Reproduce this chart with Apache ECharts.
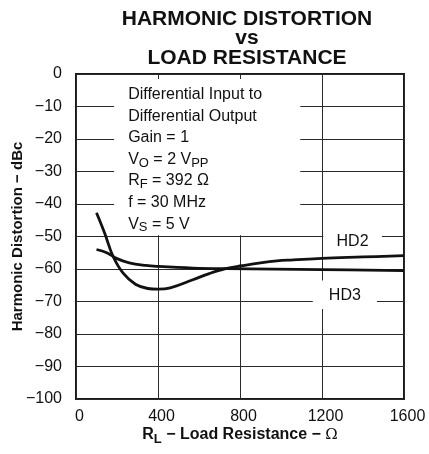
<!DOCTYPE html>
<html>
<head>
<meta charset="utf-8">
<script src="https://cdn.jsdelivr.net/npm/echarts@6/dist/echarts.min.js"></script>
<style>
  html, body { margin: 0; padding: 0; background: #ffffff; }
  #chart { width: 429px; height: 454px; }
</style>
</head>
<body>
<div id="chart"></div>
<script>
// Harmonic distortion (dBc) versus load resistance (ohms)
const hd2Load = [100, 140, 180, 230, 290, 350, 400, 460, 570, 650, 730, 810, 900, 980, 1060, 1200, 1400, 1600];
const hd2Dbc  = [-42.7, -49, -56, -61.3, -64.7, -66, -66.2, -65.8, -63.3, -61.4, -59.9, -59, -58.1, -57.5, -57.2, -56.7, -56.3, -55.9];

const hd3Load = [100, 150, 200, 260, 340, 400, 570, 730, 1200, 1600];
const hd3Dbc  = [-54, -55, -56.8, -58.1, -58.9, -59.2, -59.7, -59.9, -60.2, -60.5];

const xTickStep = 400;
const yTickStep = 10;

const titleLines = ['HARMONIC DISTORTION', 'vs', 'LOAD RESISTANCE'];
const conditionLines = [
  '{n|Differential Input to}',
  '{n|Differential Output}',
  '{n|Gain = 1}',
  '{n|V}{s|O}{n| = 2 V}{s|PP}',
  '{n|R}{s|F}{n| = 392 \u03A9}',
  '{n|f = 30 MHz}',
  '{n|V}{s|S}{n| = 5 V}'
];
const curveNames = ['HD2', 'HD3'];

const FONT = '"Liberation Sans", Arial, Helvetica, sans-serif';
const INK = '#111111';

const zip = (xs, ys) => xs.map((x, i) => [x, ys[i]]);
const minus = v => String(v).replace('-', '\u2212');

const whiteBox = { color: '#ffffff', opacity: 1, borderWidth: 0 };

const chart = echarts.init(document.getElementById('chart'), null, { renderer: 'canvas' });

chart.setOption({
  animation: false,
  backgroundColor: '#ffffff',
  textStyle: { fontFamily: FONT, color: INK },
  title: {
    text: titleLines.join('\n'),
    left: 242,
    top: 4,
    textAlign: 'center',
    textStyle: { fontFamily: FONT, fontWeight: 'bold', fontSize: 21, lineHeight: 19.5, color: INK }
  },
  grid: {
    left: 76, right: 25, top: 74, bottom: 55,
    containLabel: false,
    outerBoundsMode: 'none',
    show: true, borderColor: '#1a1a1a', borderWidth: 2, backgroundColor: 'transparent'
  },
  xAxis: {
    type: 'value',
    min: 0, max: 1600, interval: xTickStep,
    name: 'R{sub|L} \u2212 Load Resistance \u2212 {om|\u03A9}',
    nameLocation: 'middle',
    nameGap: 28,
    nameMoveOverlap: false,
    nameTextStyle: {
      fontFamily: FONT, fontWeight: 'bold', fontSize: 16, color: INK,
      rich: {
        sub: { fontFamily: FONT, fontWeight: 'bold', fontSize: 13, lineHeight: 13, padding: [8, 0, 0, 0], color: INK },
        om: { fontFamily: '"DejaVu Serif", serif', fontWeight: 'normal', fontSize: 15, color: INK }
      }
    },
    axisLine: { show: false },
    axisTick: { show: false },
    axisLabel: { fontFamily: FONT, fontSize: 16, color: INK, margin: 10, padding: [0, 0, 0, 7], formatter: v => String(v) },
    splitLine: { show: true, lineStyle: { color: '#2a2a2a', width: 1 } }
  },
  yAxis: {
    type: 'value',
    min: -100, max: 0, interval: yTickStep,
    name: 'Harmonic Distortion \u2212 dBc',
    nameLocation: 'middle',
    nameGap: 51,
    nameMoveOverlap: false,
    nameTextStyle: { fontFamily: FONT, fontWeight: 'bold', fontSize: 15, color: INK },
    axisLine: { show: false },
    axisTick: { show: false },
    axisLabel: { fontFamily: FONT, fontSize: 16, color: INK, margin: 14, formatter: minus },
    splitLine: { show: true, lineStyle: { color: '#2a2a2a', width: 1 } }
  },
  series: [
    {
      // white panels carrying the test conditions and curve labels
      name: 'panels',
      type: 'line',
      data: [],
      z: 1,
      silent: true,
      markArea: {
        silent: true,
        itemStyle: whiteBox,
        data: [
          [
            {
              xAxis: 186, yAxis: -1.5,
              label: {
                show: true,
                position: 'insideTopLeft',
                distance: 0,
                offset: [14, 5],
                formatter: conditionLines.join('\n'),
                rich: {
                  n: { fontFamily: FONT, fontSize: 16, lineHeight: 21.6, color: INK },
                  s: { fontFamily: FONT, fontSize: 13, lineHeight: 13, padding: [7, 0, 0, 0], color: INK }
                }
              }
            },
            { xAxis: 1094, yAxis: -49.6 }
          ],
          [
            {
              xAxis: 1206, yAxis: -47,
              label: { show: true, position: 'inside', formatter: curveNames[0], fontFamily: FONT, fontSize: 16, color: INK, offset: [0, 3] }
            },
            { xAxis: 1492, yAxis: -54 }
          ],
          [
            {
              xAxis: 1155, yAxis: -63.5,
              label: { show: true, position: 'inside', formatter: curveNames[1], fontFamily: FONT, fontSize: 16, color: INK, offset: [0, 1] }
            },
            { xAxis: 1468, yAxis: -72.3 }
          ]
        ]
      }
    },
    {
      name: curveNames[0],
      type: 'line',
      smooth: 0.4,
      symbol: 'none',
      z: 3,
      lineStyle: { color: '#111111', width: 2.8 },
      data: zip(hd2Load, hd2Dbc)
    },
    {
      name: curveNames[1],
      type: 'line',
      smooth: 0.4,
      symbol: 'none',
      z: 3,
      lineStyle: { color: '#111111', width: 2.8 },
      data: zip(hd3Load, hd3Dbc)
    }
  ]
});
</script>
</body>
</html>
